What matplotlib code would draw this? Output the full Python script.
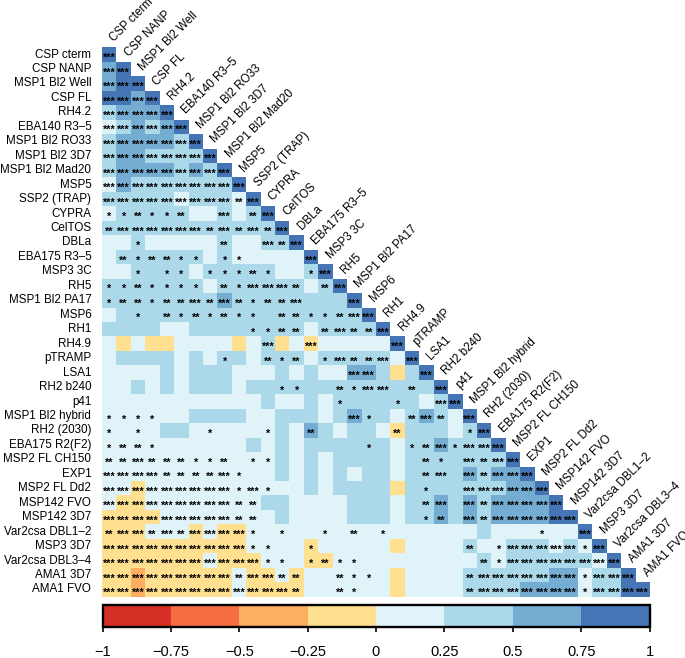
import numpy as np
import matplotlib

matplotlib.use("Agg")
import matplotlib.pyplot as plt
from matplotlib.cm import ScalarMappable
from matplotlib.colors import BoundaryNorm, ListedColormap

LABELS = [
    "CSP cterm", "CSP NANP", "MSP1 Bl2 Well", "CSP FL", "RH4.2", "EBA140 R3\u20135",
    "MSP1 Bl2 RO33", "MSP1 Bl2 3D7", "MSP1 Bl2 Mad20", "MSP5", "SSP2 (TRAP)", "CYPRA",
    "CelTOS", "DBLa", "EBA175 R3\u20135", "MSP3 3C", "RH5", "MSP1 Bl2 PA17", "MSP6", "RH1",
    "RH4.9", "pTRAMP", "LSA1", "RH2 b240", "p41", "MSP1 Bl2 hybrid", "RH2 (2030)",
    "EBA175 R2(F2)", "MSP2 FL CH150", "EXP1", "MSP2 FL Dd2", "MSP142 FVO", "MSP142 3D7",
    "Var2csa DBL1\u20132", "MSP3 3D7", "Var2csa DBL3\u20134", "AMA1 3D7", "AMA1 FVO",
]

# estimated correlation for each colour band
BAND_VALUES = {"o": -0.375, "y": -0.125, "l": 0.125, "m": 0.375, "h": 0.625, "d": 0.875}

# lower triangle, one string per row, one letter per cell
BANDS = [
    "d",
    "hd",
    "hdd",
    "ddhd",
    "mhhhd",
    "lmhmhd",
    "mhhhhmd",
    "mhhmmmmd",
    "mhhhhmhmd",
    "lhmmmmmmmd",
    "mmmmmlmmmld",
    "lmmmmmllmlmd",
    "mmmmmmmmmmmmd",
    "llmlllllmllmmd",
    "lmmmmmmlmllllld",
    "llmmmmlmmmmmllmd",
    "mmmmmmmlmmmmmmlmd",
    "mmmmmmmmhmmmmmmmmd",
    "lmmmmmmmmmmmmmmmmmd",
    "mmmmllmmmmmmmmlmmmmd",
    "lylyyllllylmylylllllld"[:20] + "d",
    "lmmmmlmlmmlmmmlmmmmmld",
    "llllmlmmmlllmlmllhhmymd",
    "llmlmlmmmlmmmmmmmmmmmmmd",
    "lllllllllllmllmlmmmmmmlmd",
    "llllllmmmmllmmmlmhmmlmhmld",
    "llllmmllllllmlhmlmmlymmmlmd",
    "llllllllllmlmlmmmmmmlmmhmmmd",
    "llllllllllllmlmlmmmmlmmmmmmmd",
    "llllllllllllmlmlmlmmlmmmmhmhhd",
    "llylllllllllllmlmmmmymmmmmmmhhd",
    "lyyllllllllmmllllmmmlmmhmhmhhhhd",
    "yyyyllllllllmllllmmmlmmhmhmhhhhdd",
    "yyylllylyyllllllllllllllllmlllllld",
    "yyyyyyyyyyllllyllllly" "llllmllmmmlmld",
    "yyyyyyylyyylllyyllll" "llllllmlmmmmmmld",
    "yyoyyyyyylyylyllllllyllllmmmmmmhhlmmd",
    "yyoyyyyyylyyyyllllllyllllmmmmhhhhlmmdd",
]

# number of significance stars per cell, same shape as BANDS
STARS = [
    "3",
    "33",
    "333",
    "3333",
    "33333",
    "333333",
    "3333333",
    "33333333",
    "333333333",
    "3333333333",
    "33333333323",
    "112112003023",
    "2333333232323",
    "00100000200323",
    "021221101100003",
    "0010110111210013",
    "11211110213332023",
    "122122323212230003",
    "0010212121102211233",
    "00000000001122023223",
    "000000000003003000003",
    "0000000010021201322303",
    "00000000000000000330003",
    "000000000000110021330203",
    "0000000000000000100010033",
    "11110000000000000310023203",
    "101000010001002000002000013",
    "1221000000000000001001231333",
    "22322211201100000000002103233",
    "333322223100000000000023032333",
    "3333333331310000000000100333333",
    "33333333322000000000002303233333",
    "333333333220000000000012032333333",
    "2332323333101001020100000000001003",
    "33333333331100100000000002013333313",
    "333333333331101211000000002133333333",
    "3333333332332200211000000233333331333",
    "33333333333332002100000002333333313333",
]

CBAR_COLORS = ["#D73027", "#F46D43", "#FDAE61", "#FEE090", "#E0F3F8", "#ABD9E9", "#74ADD1", "#4575B4"]
CBAR_EDGES = [-1, -0.75, -0.5, -0.25, 0, 0.25, 0.5, 0.75, 1]
CBAR_LABELS = ["\u22121", "\u22120.75", "\u22120.5", "\u22120.25", "0", "0.25", "0.5", "0.75", "1"]


def build_matrix():
    n = len(LABELS)
    matrix = np.full((n, n), np.nan)
    for i, row in enumerate(BANDS):
        assert len(row) == i + 1 and len(STARS[i]) == i + 1, i
        for j, band in enumerate(row):
            matrix[i, j] = BAND_VALUES[band]
    return matrix


def main():
    plt.rcParams["font.family"] = ["Liberation Sans", "DejaVu Sans"]
    W, H = 685, 658
    n = len(LABELS)

    cmap = ListedColormap(CBAR_COLORS)
    cmap.set_bad((1, 1, 1, 0))
    norm = BoundaryNorm(CBAR_EDGES, cmap.N)

    fig = plt.figure(figsize=(W / 100, H / 100), dpi=100)
    ax = fig.add_axes([102 / W, 1 - 596.7 / H, 548 / W, 549.4 / H])
    ax.pcolormesh(np.arange(n + 1), np.arange(n + 1), np.ma.masked_invalid(build_matrix()),
                  cmap=cmap, norm=norm)
    ax.set_xlim(0, n)
    ax.set_ylim(n, 0)
    ax.axis("off")

    for i, label in enumerate(LABELS):
        ax.text(-0.74, i + 0.5, label, ha="right", va="center", fontsize=8.4)
        ax.text(i + 0.7, i - 0.5, label, ha="left", va="center", rotation=45,
                rotation_mode="anchor", fontsize=8.4, clip_on=False)

    for i, row in enumerate(STARS):
        for j, count in enumerate(row):
            if count != "0":
                ax.text(j + 0.5, i + 0.74, "*" * int(count), ha="center", va="center",
                        fontsize=7.8, fontweight="bold", color="black")

    cax = fig.add_axes([102.5 / W, 1 - 626.7 / H, 547 / W, 22 / H])
    cbar = fig.colorbar(ScalarMappable(norm=norm, cmap=cmap), cax=cax,
                        orientation="horizontal", ticks=CBAR_EDGES, spacing="proportional")
    cbar.ax.set_xticklabels(CBAR_LABELS, fontsize=10.5)
    cbar.outline.set_linewidth(1.7)
    cbar.ax.tick_params(length=3.6, width=1.2, pad=9.5)

    fig.savefig("out.png", dpi=100)


if __name__ == "__main__":
    main()
